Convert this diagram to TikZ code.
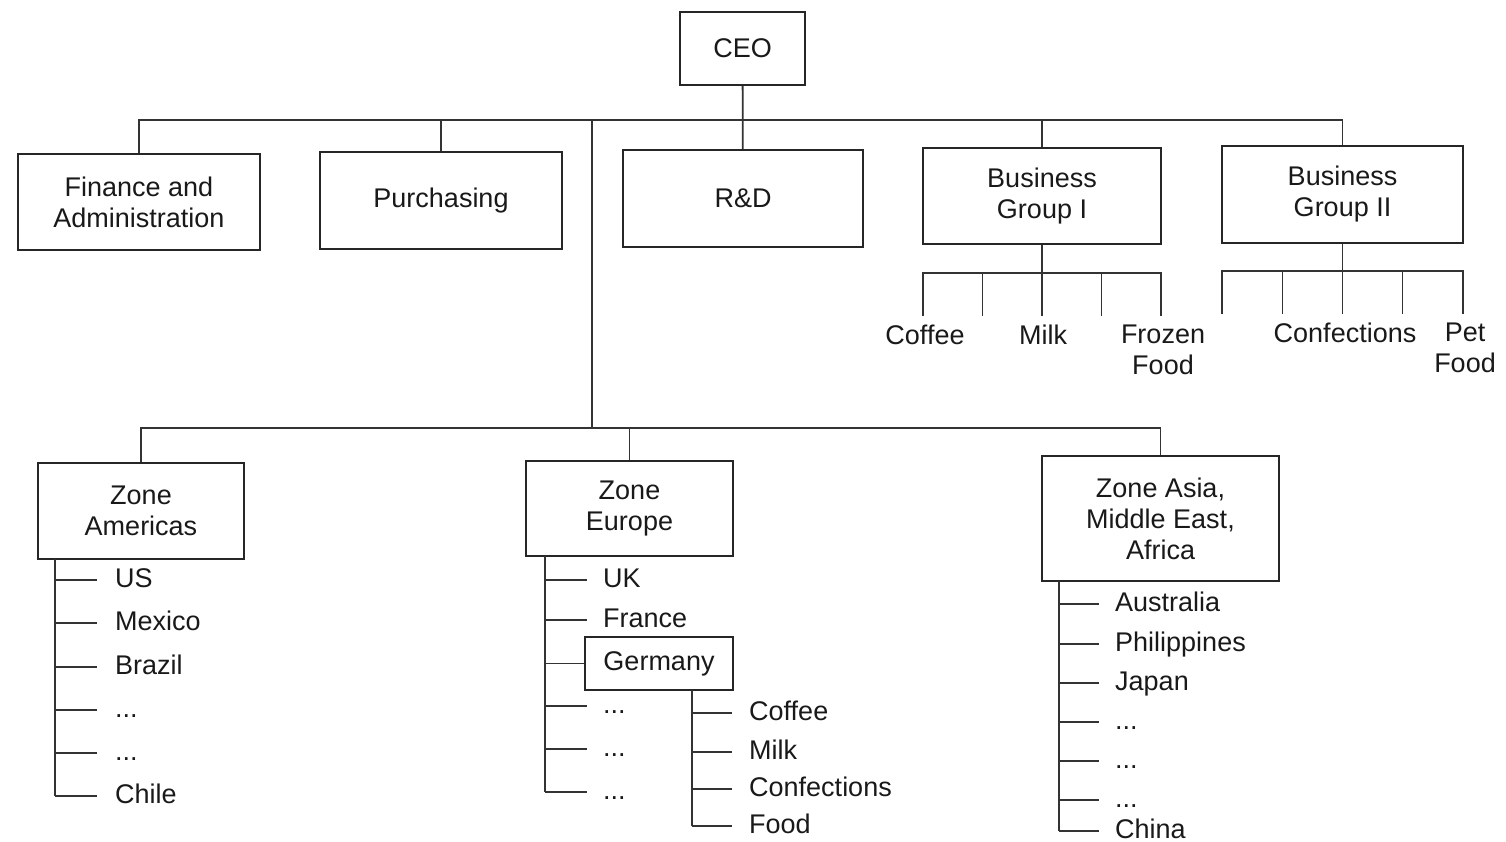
\documentclass[tikz,border=0pt]{standalone}
\usepackage{fontspec}
\setmainfont{Liberation Sans}
\usetikzlibrary{positioning}

\tikzset{
  orgbox/.style={draw=black!85, line width=2pt, align=center, inner sep=0pt, text=black!90},
  item/.style={anchor=west, inner sep=0pt, text height=20pt, text depth=6pt, text=black!90},
  prod/.style={align=center, inner sep=0pt, text=black!90},
  link/.style={draw=black!80, line width=1.8pt},
}
\newcommand{\gapitem}{...}

\begin{document}
\begin{tikzpicture}[x=1pt, y=-1pt, font=\fontsize{27}{31}\selectfont]
\useasboundingbox (0,0) rectangle (1506,842);

% top of the chart
\node[orgbox, minimum width=125pt, minimum height=73pt] (ceo) at (742.5,48.5) {CEO};
\node[orgbox, minimum width=242pt, minimum height=96pt] (fin) at (139,202.5) {Finance and\\Administration};
\node[orgbox, minimum width=242pt, minimum height=97pt] (pur) at (441,200.5) {Purchasing};
\node[orgbox, minimum width=240pt, minimum height=97pt] (rd) at (743,198.5) {R\&D};
\node[orgbox, minimum width=238pt, minimum height=96pt] (bg1) at (1042,196) {Business\\Group I};
\node[orgbox, minimum width=241pt, minimum height=97pt] (bg2) at (1342.5,194.5) {Business\\Group II};

\coordinate (bus) at (742.5,120);
\coordinate (hub) at (592,120);
\draw[link] (ceo) -- (rd);
\draw[link] (fin.north) |- (bus) -| (bg2.north);
\draw[link] (pur.north) -- (pur.north |- bus);
\draw[link] (bg1.north) -- (bg1.north |- bus);

% products of the business groups
\draw[link] (bg1.south) -- ++(0,28) coordinate (bar1);
\draw[link] (bar1 -| bg1.west) -- (bar1 -| bg1.east);
\foreach \dx in {-119,-59.5,0,59.5,119}
  \draw[link] (bar1) ++(\dx,0) -- ++(0,43);
\draw[link] (bg2.south) -- ++(0,27) coordinate (bar2);
\draw[link] (bar2 -| bg2.west) -- (bar2 -| bg2.east);
\foreach \dx in {-120.5,-60,0,60,120.5}
  \draw[link] (bar2) ++(\dx,0) -- ++(0,43);

\node[prod] (cof1) at (925,335) {Coffee};
\node[prod] (mlk1) at (1043,335) {Milk};
\node[prod] (frz1) at (1163,350) {Frozen\\Food};
\node[prod] (con2) at (1345,333) {Confections};
\node[prod] (pet2) at (1465,348) {Pet\\Food};

% zones
\node[orgbox, minimum width=206pt, minimum height=96pt] (zam) at (141,511) {Zone\\Americas};
\node[orgbox, minimum width=207pt, minimum height=95pt] (zeu) at (629.5,508.5) {Zone\\Europe};
\node[orgbox, minimum width=237pt, minimum height=125pt] (zas) at (1160.5,518.5) {Zone Asia,\\Middle East,\\Africa};

\coordinate (zbus) at (592,428);
\draw[link] (hub) -- (zbus);
\draw[link] (zam.north) |- (zbus) -| (zas.north);
\draw[link] (zeu.north) -- (zeu.north |- zbus);

% Americas
\coordinate (amspine) at (55,559);
\foreach \y/\t [count=\i] in {580/US,623/Mexico,667/Brazil,710/\gapitem,753/\gapitem,796/Chile}
  \node[item] (am\i) at (115,\y) {\t};
\foreach \i in {1,...,6}
  \draw[link] (amspine |- am\i.west) -- ++(42,0);
\draw[link] (amspine) -- (amspine |- am6.west);

% Europe
\coordinate (euspine) at (545,556);
\node[item] (eu1) at (603,580) {UK};
\node[item] (eu2) at (603,620) {France};
\node[orgbox, line width=1.8pt, minimum width=148pt, minimum height=53pt] (ger) at (659,663.5) {Germany};
\foreach \y [count=\i from 3] in {706,749,792}
  \node[item] (eu\i) at (603,\y) {\gapitem};
\foreach \i in {1,...,5}
  \draw[link] (euspine |- eu\i.west) -- ++(42,0);
\draw[link] (euspine |- ger.west) -- (ger.west);
\draw[link] (euspine) -- (euspine |- eu5.west);

% Germany
\coordinate (gerspine) at (692,690);
\foreach \y/\t [count=\i] in {713/Coffee,752/Milk,789/Confections,826/Food}
  \node[item] (ge\i) at (749,\y) {\t};
\foreach \i in {1,...,4}
  \draw[link] (gerspine |- ge\i.west) -- ++(40,0);
\draw[link] (gerspine) -- (gerspine |- ge4.west);

% Asia, Middle East, Africa
\coordinate (asspine) at (1059,581);
\foreach \y/\t [count=\i] in {604/Australia,644/Philippines,683/Japan,722/\gapitem,761/\gapitem,800/\gapitem,831/China}
  \node[item] (as\i) at (1115,\y) {\t};
\foreach \i in {1,...,7}
  \draw[link] (asspine |- as\i.west) -- ++(40,0);
\draw[link] (asspine) -- (asspine |- as7.west);

\end{tikzpicture}
\end{document}
